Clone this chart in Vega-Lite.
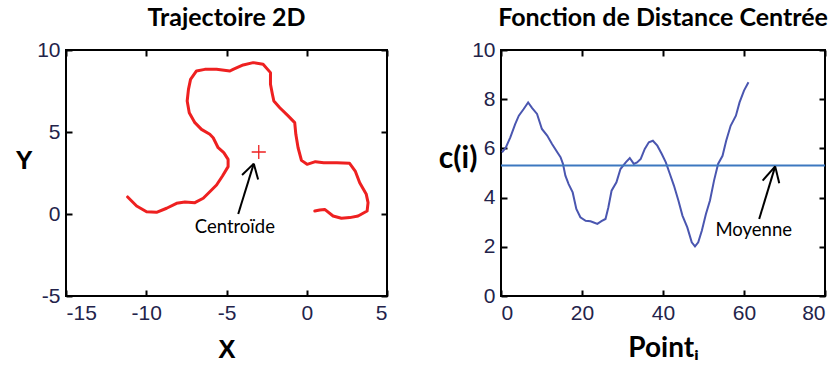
{
  "$schema": "https://vega.github.io/schema/vega-lite/v6.json",
  "padding": {"left": 13, "top": 5, "right": 5, "bottom": 5},
  "spacing": 48,
  "datasets": {
    "traj": [
      {"o":1,"x":-11.16,"y":1.04},{"o":2,"x":-10.60,"y":0.49},{"o":3,"x":-9.98,"y":0.14},{"o":4,"x":-9.36,"y":0.10},
      {"o":5,"x":-8.73,"y":0.35},{"o":6,"x":-8.11,"y":0.65},{"o":7,"x":-7.59,"y":0.73},{"o":8,"x":-6.97,"y":0.69},
      {"o":9,"x":-6.45,"y":0.96},{"o":10,"x":-6.04,"y":1.36},{"o":11,"x":-5.62,"y":1.77},{"o":12,"x":-5.25,"y":2.32},
      {"o":13,"x":-4.90,"y":2.89},{"o":14,"x":-4.90,"y":3.33},{"o":15,"x":-5.17,"y":3.74},{"o":16,"x":-5.52,"y":4.04},
      {"o":17,"x":-5.83,"y":4.65},{"o":18,"x":-6.04,"y":4.86},{"o":19,"x":-6.56,"y":5.16},{"o":20,"x":-6.97,"y":5.57},
      {"o":21,"x":-7.32,"y":6.18},{"o":22,"x":-7.45,"y":6.89},{"o":23,"x":-7.37,"y":7.60},{"o":24,"x":-7.24,"y":8.21},
      {"o":25,"x":-6.87,"y":8.72},{"o":26,"x":-6.35,"y":8.82},{"o":27,"x":-5.62,"y":8.82},{"o":28,"x":-4.79,"y":8.72},
      {"o":29,"x":-4.59,"y":8.82},{"o":30,"x":-3.96,"y":9.09},{"o":31,"x":-3.34,"y":9.23},{"o":32,"x":-2.72,"y":9.13},
      {"o":33,"x":-2.26,"y":8.62},{"o":34,"x":-2.26,"y":7.91},{"o":35,"x":-2.14,"y":7.30},{"o":36,"x":-2.05,"y":6.89},
      {"o":37,"x":-1.68,"y":6.48},{"o":38,"x":-1.16,"y":5.98},{"o":39,"x":-0.75,"y":5.57},{"o":40,"x":-0.68,"y":4.86},
      {"o":41,"x":-0.54,"y":4.04},{"o":42,"x":-0.33,"y":3.27},{"o":43,"x":0.02,"y":3.03},{"o":44,"x":0.54,"y":3.19},
      {"o":45,"x":1.06,"y":3.13},{"o":46,"x":1.88,"y":3.13},{"o":47,"x":2.67,"y":3.09},{"o":48,"x":3.02,"y":2.62},
      {"o":49,"x":3.30,"y":1.91},{"o":50,"x":3.71,"y":1.20},{"o":51,"x":3.82,"y":0.69},{"o":52,"x":3.76,"y":0.18},
      {"o":53,"x":3.20,"y":-0.12},{"o":54,"x":2.68,"y":-0.22},{"o":55,"x":2.16,"y":-0.26},{"o":56,"x":1.64,"y":-0.12},
      {"o":57,"x":1.12,"y":0.28},{"o":58,"x":0.81,"y":0.24},{"o":59,"x":0.50,"y":0.18}
    ],
    "centroid": [{"x": -2.99, "y": 3.78}],
    "arrowL": [
      {"x":-4.27,"y":0.0,"x2":-3.30,"y2":3.07},
      {"x":-4.03,"y":2.38,"x2":-3.30,"y2":3.07},
      {"x":-3.03,"y":2.11,"x2":-3.30,"y2":3.07}
    ],
    "labelL": [{"x": -4.48, "y": -0.79, "t": "Centroïde"}],
    "dist": [
      {"i":0.25,"c":5.84},{"i":1.2,"c":6.04},{"i":2.3,"c":6.45},{"i":3.5,"c":6.99},{"i":4.4,"c":7.33},{"i":5.6,"c":7.60},
      {"i":6.7,"c":7.87},{"i":7.7,"c":7.64},{"i":8.9,"c":7.40},{"i":10.1,"c":6.79},{"i":11.4,"c":6.52},{"i":12.6,"c":6.18},
      {"i":13.9,"c":5.84},{"i":14.7,"c":5.64},{"i":15.3,"c":5.37},{"i":15.9,"c":4.89},{"i":16.7,"c":4.55},{"i":17.7,"c":4.21},
      {"i":18.6,"c":3.54},{"i":19.6,"c":3.20},{"i":20.9,"c":3.06},{"i":22.1,"c":3.04},{"i":22.9,"c":2.99},{"i":23.8,"c":2.93},
      {"i":24.8,"c":3.04},{"i":25.8,"c":3.13},{"i":26.5,"c":3.60},{"i":27.3,"c":4.28},{"i":28.5,"c":4.62},{"i":29.5,"c":5.16},
      {"i":30.8,"c":5.43},{"i":31.8,"c":5.61},{"i":32.8,"c":5.37},{"i":33.6,"c":5.43},{"i":34.5,"c":5.57},{"i":35.5,"c":5.98},
      {"i":36.5,"c":6.25},{"i":37.5,"c":6.31},{"i":38.6,"c":6.11},{"i":39.7,"c":5.77},{"i":40.7,"c":5.43},{"i":41.7,"c":4.96},
      {"i":42.7,"c":4.49},{"i":43.8,"c":3.88},{"i":44.8,"c":3.27},{"i":46.0,"c":2.79},{"i":47.1,"c":2.18},{"i":47.9,"c":2.02},
      {"i":48.7,"c":2.18},{"i":49.6,"c":2.66},{"i":50.6,"c":3.33},{"i":51.6,"c":3.88},{"i":52.6,"c":4.69},{"i":53.6,"c":5.37},
      {"i":54.7,"c":5.70},{"i":55.6,"c":6.31},{"i":56.7,"c":6.92},{"i":58.0,"c":7.33},{"i":58.9,"c":7.87},{"i":60.0,"c":8.35},
      {"i":61.1,"c":8.69}
    ],
    "mean": [{"c": 5.30}],
    "arrowR": [
      {"x":63.75,"y":3.13,"x2":67.7,"y2":5.27},
      {"x":64.6,"y":4.69,"x2":67.7,"y2":5.27},
      {"x":68.7,"y":4.58,"x2":67.7,"y2":5.27}
    ],
    "labelR": [{"x": 62.4, "y": 2.68, "t": "Moyenne"}]
  },
  "config": {
    "view": {"stroke": "black", "strokeWidth": 2},
    "axis": {
      "grid": false,
      "domain": false,
      "tickColor": "black",
      "tickSize": -6,
      "tickWidth": 2,
      "labelFont": "Liberation Sans",
      "labelFontSize": 21,
      "labelColor": "#23234a",
      "labelPadding": 12,
      "labelExpr": "toString(datum.value)",
      "titleColor": "black"
    },
    "title": {"font": "Lato", "fontWeight": "bold", "fontSize": 25, "color": "black", "offset": 8}
  },
  "hconcat": [
    {
      "width": 321,
      "height": 246,
      "title": "Trajectoire 2D",
      "layer": [
        {
          "data": {"name": "traj"},
          "mark": {"type": "line", "color": "#ee2020", "strokeWidth": 3, "strokeJoin": "round", "strokeCap": "round"},
          "encoding": {
            "x": {"field": "x", "type": "quantitative", "scale": {"domain": [-15, 5], "nice": false, "zero": false},
                  "axis": {"orient": "bottom", "values": [-15, -10, -5, 0, 5], "title": "X", "titleFont": "Liberation Sans", "titleFontSize": 26, "titleFontWeight": "bold", "titlePadding": 13}},
            "y": {"field": "y", "type": "quantitative", "scale": {"domain": [-5, 10], "nice": false, "zero": false},
                  "axis": {"orient": "left", "values": [-5, 0, 5, 10], "title": "Y", "titleAngle": 0, "titleFont": "Liberation Sans", "titleFontSize": 26, "titleFontWeight": "bold", "titlePadding": 13}},
            "order": {"field": "o", "type": "quantitative"}
          }
        },
        {
          "data": {"name": "centroid"},
          "mark": {"type": "point", "shape": "M-1,0L1,0M0,-1L0,1", "filled": false, "color": "#ee2020", "strokeWidth": 1.3, "size": 200, "opacity": 1},
          "encoding": {
            "x": {"field": "x", "type": "quantitative", "axis": {"orient": "top", "labels": false, "title": null, "values": [-15, -10, -5, 0, 5]}},
            "y": {"field": "y", "type": "quantitative", "axis": {"orient": "right", "labels": false, "title": null, "values": [-5, 0, 5, 10]}}
          }
        },
        {
          "data": {"name": "arrowL"},
          "mark": {"type": "rule", "color": "black", "strokeWidth": 2},
          "encoding": {
            "x": {"field": "x", "type": "quantitative", "axis": null},
            "y": {"field": "y", "type": "quantitative", "axis": null},
            "x2": {"field": "x2"},
            "y2": {"field": "y2"}
          }
        },
        {
          "data": {"name": "labelL"},
          "mark": {"type": "text", "font": "Lato", "fontSize": 18.5, "color": "black", "align": "center", "baseline": "middle"},
          "encoding": {
            "x": {"field": "x", "type": "quantitative", "axis": null},
            "y": {"field": "y", "type": "quantitative", "axis": null},
            "text": {"field": "t"}
          }
        }
      ],
      "resolve": {"axis": {"x": "independent", "y": "independent"}}
    },
    {
      "width": 324,
      "height": 246,
      "title": "Fonction de Distance Centrée",
      "layer": [
        {
          "data": {"name": "dist"},
          "mark": {"type": "line", "color": "#4a56b0", "strokeWidth": 2},
          "encoding": {
            "x": {"field": "i", "type": "quantitative", "scale": {"domain": [0, 80], "nice": false},
                  "axis": {"orient": "bottom", "values": [0, 20, 40, 60, 80], "title": "Pointᵢ", "titleFont": "Lato", "titleFontSize": 28, "titleFontWeight": "bold", "titlePadding": 11}},
            "y": {"field": "c", "type": "quantitative", "scale": {"domain": [0, 10], "nice": false},
                  "axis": {"orient": "left", "values": [0, 2, 4, 6, 8, 10], "title": "c(i)", "titleAngle": 0, "titleFont": "Lato", "titleFontSize": 30, "titleFontWeight": "bold", "titlePadding": 14}}
          }
        },
        {
          "data": {"name": "mean"},
          "mark": {"type": "rule", "color": "#3c78c0", "strokeWidth": 2},
          "encoding": {
            "y": {"field": "c", "type": "quantitative", "axis": {"orient": "right", "labels": false, "title": null, "values": [0, 2, 4, 6, 8, 10]}}
          }
        },
        {
          "data": {"name": "arrowR"},
          "mark": {"type": "rule", "color": "black", "strokeWidth": 2},
          "encoding": {
            "x": {"field": "x", "type": "quantitative", "axis": {"orient": "top", "labels": false, "title": null, "values": [0, 20, 40, 60, 80]}},
            "y": {"field": "y", "type": "quantitative", "axis": null},
            "x2": {"field": "x2"},
            "y2": {"field": "y2"}
          }
        },
        {
          "data": {"name": "labelR"},
          "mark": {"type": "text", "font": "Lato", "fontSize": 18.5, "color": "black", "align": "center", "baseline": "middle"},
          "encoding": {
            "x": {"field": "x", "type": "quantitative", "axis": null},
            "y": {"field": "y", "type": "quantitative", "axis": null},
            "text": {"field": "t"}
          }
        }
      ],
      "resolve": {"axis": {"x": "independent", "y": "independent"}}
    }
  ]
}
